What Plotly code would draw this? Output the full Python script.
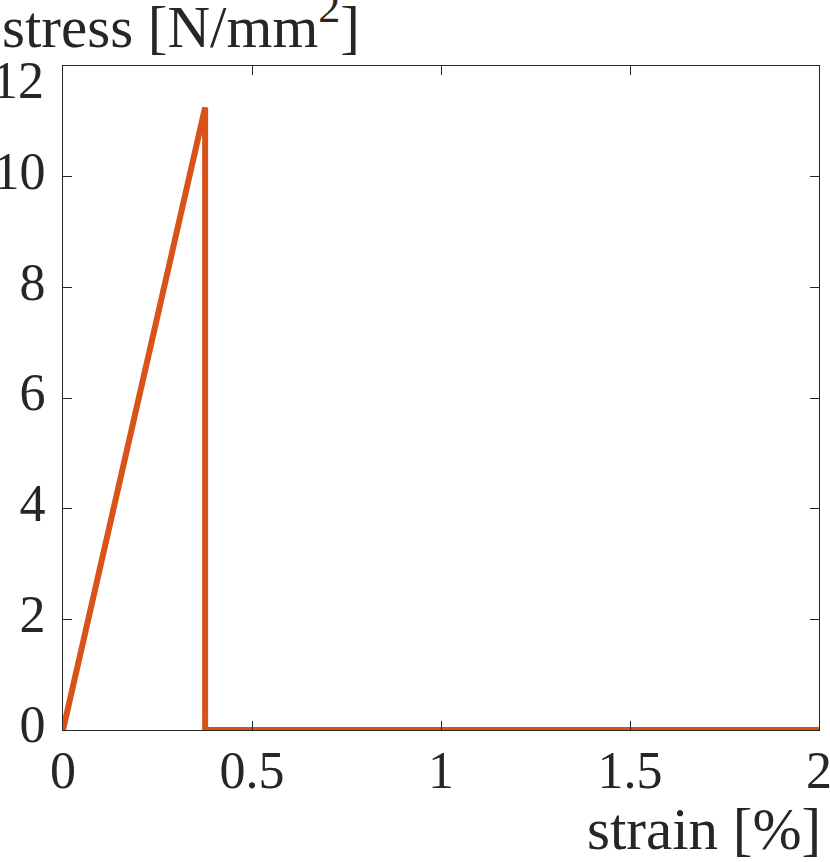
import plotly.graph_objects as go

strain = [0, 0.376, 0.376, 2.0]
stress = [0, 11.25, 0, 0]
x_ticks = [0, 0.5, 1, 1.5, 2]
x_tick_labels = ["0", "0.5", "1", "1.5", "2"]
y_ticks = [0, 2, 4, 6, 8, 10, 12]
y_tick_labels = ["0", "2", "4", "6", "8", "10", "12"]

FONT = "Liberation Serif"
INK = "#262626"
TICK_SIZE = 52
LABEL_SIZE = 59

fig = go.Figure()
fig.add_trace(go.Scatter(x=strain, y=stress, mode="lines",
                         line=dict(color="#D95319", width=6),
                         hoverinfo="skip", showlegend=False, cliponaxis=False))

axis_common = dict(showline=True, linecolor=INK, linewidth=1.3, mirror="ticks",
                   ticks="inside", ticklen=9, tickcolor=INK, tickwidth=1,
                   showgrid=False, zeroline=False, automargin=False,
                   ticklabeloverflow="allow",
                   tickfont=dict(family=FONT, size=TICK_SIZE, color=INK))

# the top y label is nudged down (as in the reference), drawn as annotation
y_ticktext = y_tick_labels[:-1] + [""]

fig.update_layout(
    width=830, height=862,
    margin=dict(l=63, r=11, t=66, b=132),
    plot_bgcolor="white", paper_bgcolor="white",
    xaxis=dict(range=[0, 2], tickvals=x_ticks, ticktext=x_tick_labels,
               ticklabelstandoff=-6, **axis_common),
    yaxis=dict(range=[0, 12], tickvals=y_ticks, ticktext=y_ticktext,
               ticklabelstandoff=6, ticklabelshift=-6, **axis_common),
    annotations=[
        dict(text=y_tick_labels[-1], xref="paper", yref="y",
             x=0, y=y_ticks[-1], xshift=-17, yshift=-14, xanchor="right", yanchor="middle",
             showarrow=False, font=dict(family=FONT, size=TICK_SIZE, color=INK)),
        dict(text="stress [N/mm<sup><span style='font-size:44px'>2</span></sup>]",
             xref="paper", yref="paper",
             x=0, y=1, xshift=-63, yshift=4, xanchor="left", yanchor="bottom",
             showarrow=False, font=dict(family=FONT, size=LABEL_SIZE, color=INK)),
        dict(text="strain [%]", xref="paper", yref="paper",
             x=1, y=0, xshift=4, yshift=-64, xanchor="right", yanchor="top",
             showarrow=False, font=dict(family=FONT, size=LABEL_SIZE, color=INK)),
    ],
)

fig.write_html("out.html", config={"displayModeBar": False},
               post_script="document.body.style.margin='0';")
